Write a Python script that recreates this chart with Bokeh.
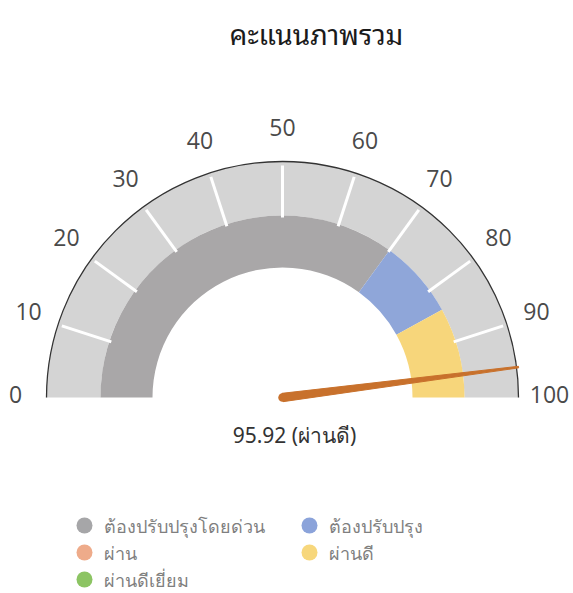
import math
from bokeh.plotting import figure
from bokeh.models import Range1d, ColumnDataSource
from bokeh.core.properties import value
from bokeh.embed import file_html
from bokeh.resources import INLINE

title_text = "คะแนนภาพรวม"
score = 95.92
score_label = "ผ่านดี"
band_starts = [0, 70, 84]
band_ends = [70, 84, 100]
band_colors = ["#a9a7a8", "#8fa6d9", "#f7d67b"]
tick_values = [0, 10, 20, 30, 40, 50, 60, 70, 80, 90, 100]
legend_labels = ["ต้องปรับปรุงโดยด่วน", "ต้องปรับปรุง", "ผ่าน", "ผ่านดี", "ผ่านดีเยี่ยม"]
legend_colors = ["#a6a6a8", "#8ba3da", "#eeab8a", "#f7d77c", "#8cc463"]

W, H = 573, 593
CX, CY = 282, 196
R_OUT = 236
R_BAND = 182
R_IN = 130
R_LBL = 267

def ang(v):
    return math.pi * (1 - v / 100.0)

p = figure(width=W, height=H, output_backend="svg", toolbar_location=None,
           x_range=Range1d(0, W), y_range=Range1d(0, H), min_border=0)
p.axis.visible = False
p.grid.visible = False
p.outline_line_color = None
p.background_fill_color = "white"
p.border_fill_color = "white"

# light background band
p.annular_wedge(x=CX, y=CY, inner_radius=R_BAND, outer_radius=R_OUT,
                start_angle=0, end_angle=math.pi, fill_color="#d4d4d4", line_color=None)
# coloured bands
src = ColumnDataSource(dict(
    start=[ang(e) for e in band_ends], end=[ang(s) for s in band_starts], color=band_colors))
p.annular_wedge(x=CX, y=CY, inner_radius=R_IN, outer_radius=R_BAND,
                start_angle="start", end_angle="end", fill_color="color", line_color=None, source=src)

# white ticks
inner_ticks = tick_values[1:-1]
p.segment(x0=[CX + (R_BAND - 2) * math.cos(ang(v)) for v in inner_ticks],
          y0=[CY + (R_BAND - 2) * math.sin(ang(v)) for v in inner_ticks],
          x1=[CX + (R_OUT - 4) * math.cos(ang(v)) for v in inner_ticks],
          y1=[CY + (R_OUT - 4) * math.sin(ang(v)) for v in inner_ticks],
          line_color="white", line_width=3)

# outer arc
p.arc(x=CX, y=CY, radius=R_OUT, start_angle=0, end_angle=math.pi,
      line_color="#333333", line_width=1.3)

# tick labels
p.text(x=[CX + R_LBL * math.cos(ang(v)) for v in tick_values],
       y=[CY + 3 + R_LBL * math.sin(ang(v)) for v in tick_values],
       text=[str(v) for v in tick_values], text_align="center", text_baseline="middle",
       text_font=value("Open Sans"), text_font_size="23px", text_color="#4a4a4a")

# needle
a = ang(score)
L = R_OUT + 2
bw, tw = 4.2, 0.8
nx = [CX + bw * math.cos(a + math.pi / 2), CX + L * math.cos(a) + tw * math.cos(a + math.pi / 2),
      CX + L * math.cos(a) - tw * math.cos(a + math.pi / 2), CX - bw * math.cos(a + math.pi / 2)]
ny = [CY + bw * math.sin(a + math.pi / 2), CY + L * math.sin(a) + tw * math.sin(a + math.pi / 2),
      CY + L * math.sin(a) - tw * math.sin(a + math.pi / 2), CY - bw * math.sin(a + math.pi / 2)]
p.patch(nx, ny, fill_color="#c8712c", line_color="#c8712c", line_width=1)
p.scatter(x=[CX], y=[CY], size=8.5, fill_color="#c8712c", line_color=None)

# score text
p.text(x=[294], y=[159], text=[f"{score:.2f} ({score_label})"], text_align="center",
       text_baseline="middle", text_font=value("Noto Sans"), text_font_size="21px",
       text_color="#333333")

# title
p.text(x=[316], y=[561], text=[title_text], text_align="center", text_baseline="middle",
       text_font=value("Noto Sans Thai Looped"), text_font_style="normal", text_font_size="28px",
       text_color="#1a1a1a")

# legend
col_x = [84, 309]
row_y = [68, 41, 14]
lx = [col_x[i % 2] for i in range(len(legend_labels))]
ly = [row_y[i // 2] for i in range(len(legend_labels))]
p.scatter(x=lx, y=ly, size=16, fill_color=legend_colors, line_color=None)
p.text(x=[x + 19 for x in lx], y=ly, text=legend_labels, text_align="left",
       text_baseline="middle", text_font=value("Noto Sans"), text_font_size="18px",
       text_color="#7f7f7f")

open("out.html", "w").write(file_html(p, INLINE))
